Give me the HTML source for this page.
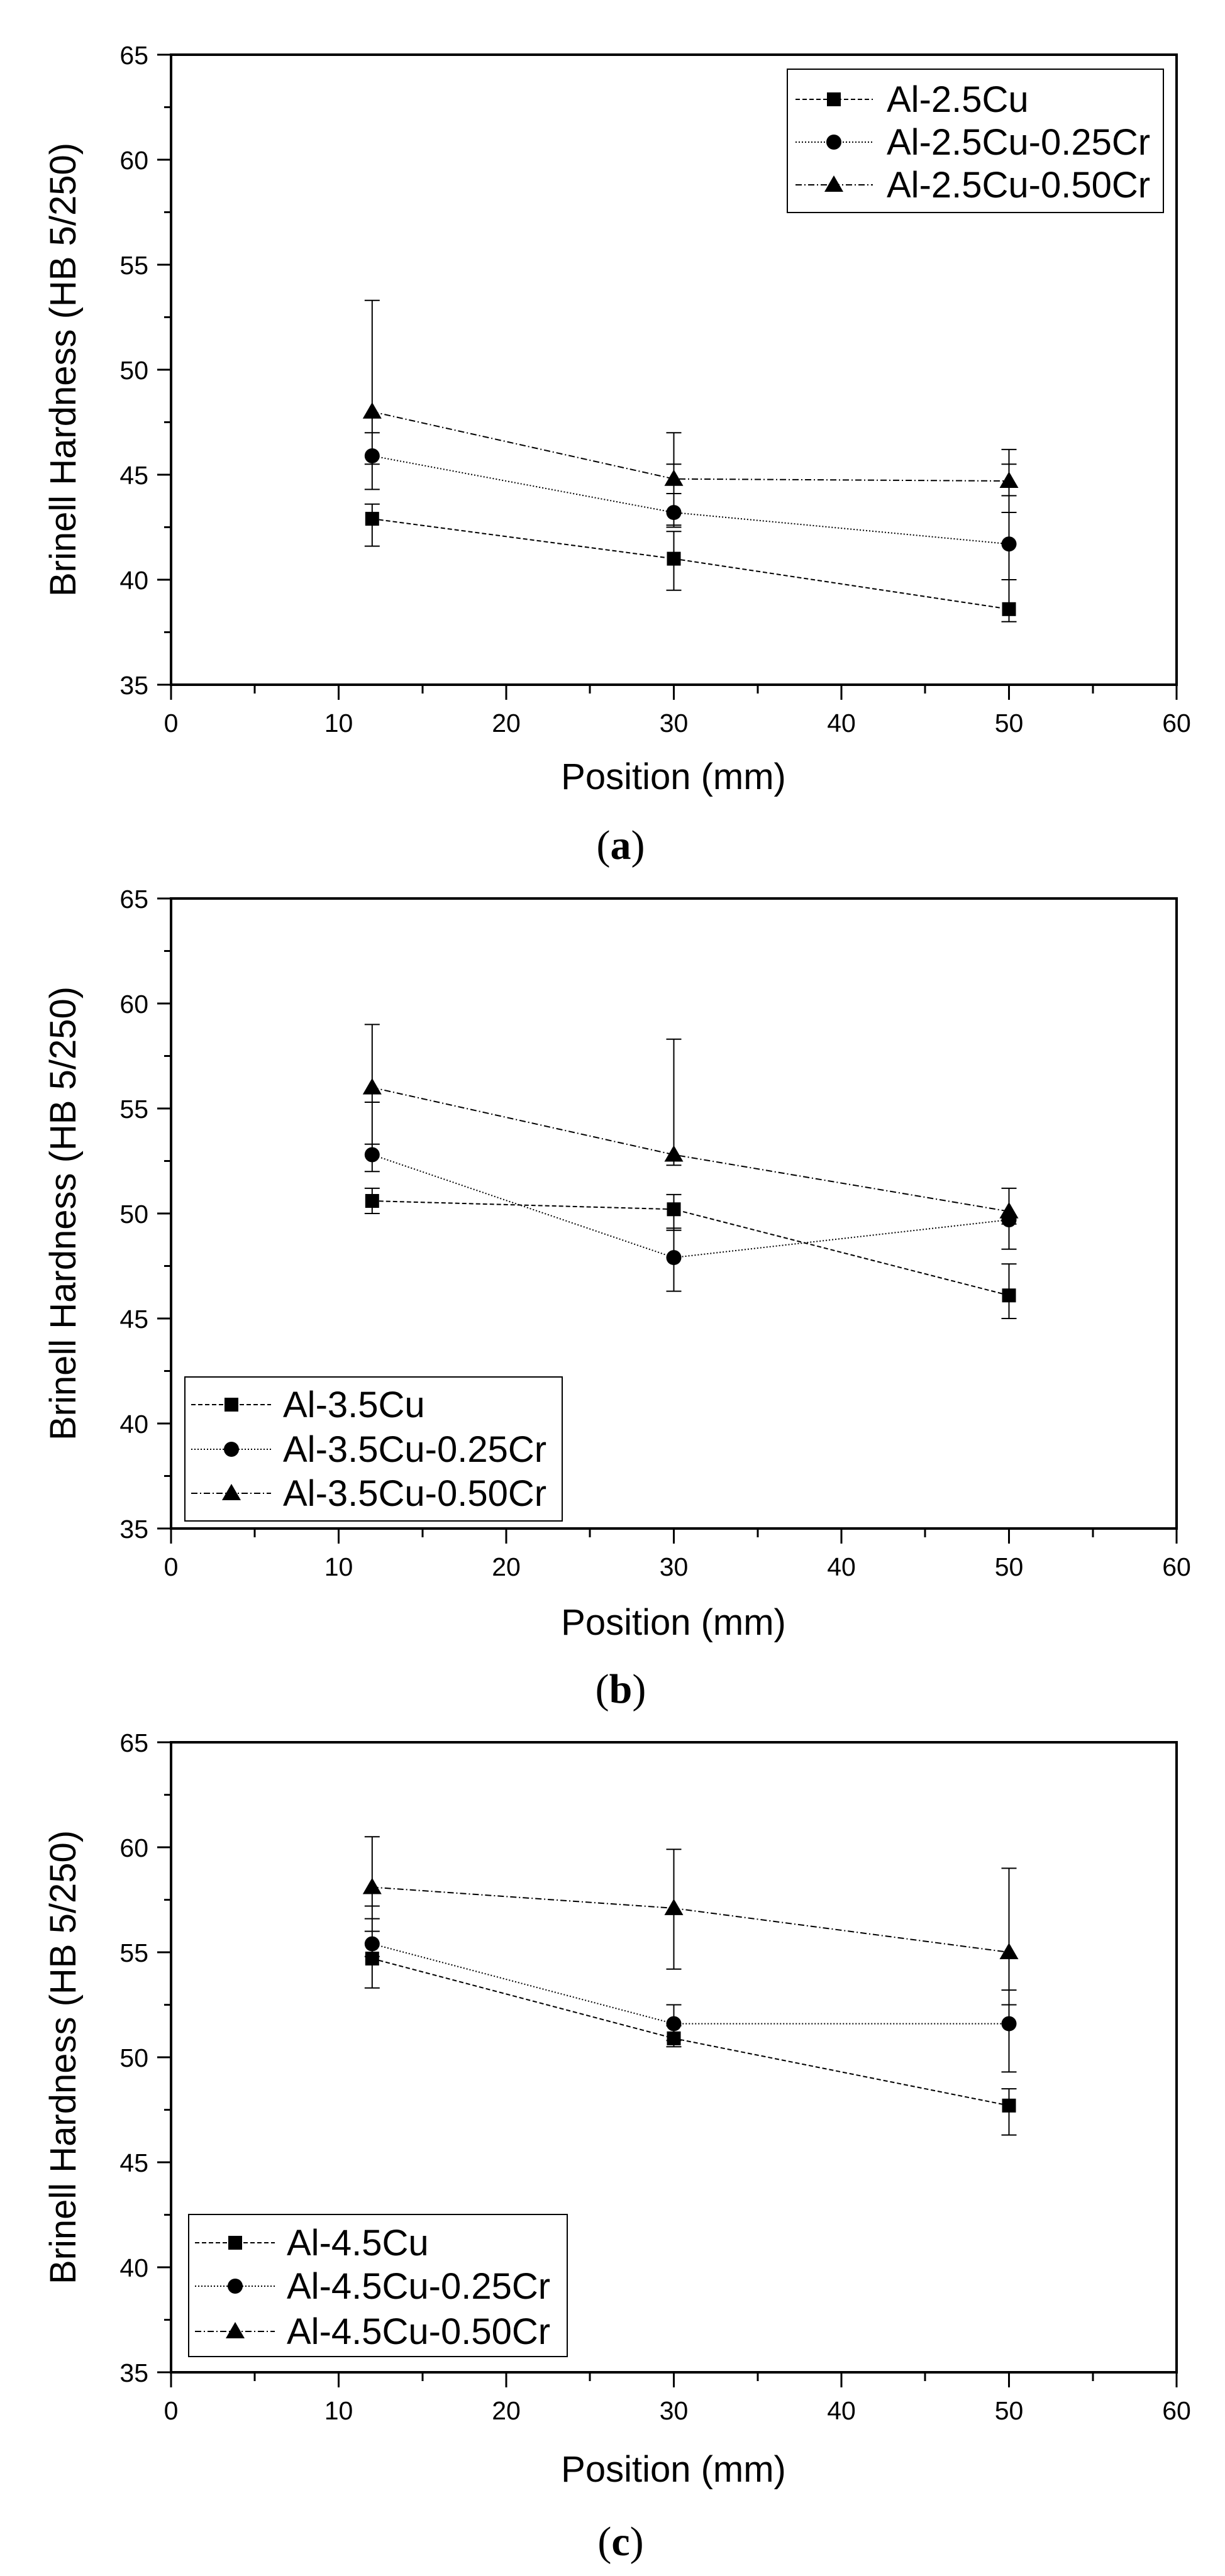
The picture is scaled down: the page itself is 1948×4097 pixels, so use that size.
<!DOCTYPE html>
<html><head><meta charset="utf-8"><style>
html,body{margin:0;padding:0;background:#fff}
svg{display:block}
text{font-family:"Liberation Sans",Arial,sans-serif;fill:#000}
.tk{font-size:41px}
.ti{font-size:58px}
.lg{font-size:58px}
.lab{font-family:"Liberation Serif",serif;font-size:66px}
</style></head><body>
<svg width="1948" height="4097" viewBox="0 0 1948 4097" xmlns="http://www.w3.org/2000/svg">
<defs>
<rect id="sq" x="-11" y="-11" width="22" height="22"/>
<circle id="ci" r="12"/>
<path id="tr" d="M0,-15 L15,11 L-15,11Z"/>
<g id="axes" fill="none" stroke="#000">
<rect x="272" y="87" width="1599" height="1002" stroke-width="4"/>
<path stroke-width="3" d="M272,1089v24M538.5,1089v24M805,1089v24M1071.5,1089v24M1338,1089v24M1604.5,1089v24M1871,1089v24
M405,1089v14M672,1089v14M938,1089v14M1205,1089v14M1471,1089v14M1738,1089v14
M272,1089h-22M272,922h-22M272,755h-22M272,588h-22M272,421h-22M272,254h-22M272,87h-22
M272,1005.5h-11M272,838.5h-11M272,671.5h-11M272,504.5h-11M272,337.5h-11M272,170.5h-11"/>
</g>
</defs>

<!-- ===== Panel (a) ===== -->
<g>
<use href="#axes"/>
<g class="tk" text-anchor="middle">
<text x="272" y="1164">0</text><text x="538.5" y="1164">10</text><text x="805" y="1164">20</text><text x="1071.5" y="1164">30</text><text x="1338" y="1164">40</text><text x="1604.5" y="1164">50</text><text x="1871" y="1164">60</text>
</g>
<g class="tk" text-anchor="end">
<text x="236" y="1104">35</text><text x="236" y="937">40</text><text x="236" y="770">45</text><text x="236" y="603">50</text><text x="236" y="436">55</text><text x="236" y="269">60</text><text x="236" y="102">65</text>
</g>
<text class="ti" x="1071" y="1255" text-anchor="middle">Position (mm)</text>
<text class="ti" transform="translate(120,588) rotate(-90)" text-anchor="middle">Brinell Hardness (HB 5/250)</text>
<g fill="none" stroke="#000" stroke-width="2">
<polyline stroke-dasharray="7,4" points="591.8,825.1 1071.5,888.6 1604.5,968.8"/>
<polyline stroke-dasharray="2,3" points="591.8,725 1071.5,815.1 1604.5,865.2"/>
<polyline stroke-dasharray="10,4,2,4" points="591.8,654.8 1071.5,761.7 1604.5,765"/>
<path d="M591.8,868.6V801.8M579.8,868.6h24M579.8,801.8h24
M1071.5,938.7V845.2M1059.5,938.7h24M1059.5,845.2h24
M1604.5,988.8V922M1592.5,988.8h24M1592.5,922h24
M591.8,778.4V688.2M579.8,778.4h24M579.8,688.2h24
M1071.5,838.5V785M1059.5,838.5h24M1059.5,785h24
M1604.5,922V788.4M1592.5,922h24M1592.5,788.4h24
M591.8,738.3V477.8M579.8,738.3h24M579.8,477.8h24
M1071.5,835.2V688.2M1059.5,835.2h24M1059.5,688.2h24M1059.5,738.3h24
M1604.5,815V714.9M1592.5,815h24M1592.5,714.9h24M1592.5,738.3h24"/>
</g>
<use href="#sq" x="591.8" y="825.1"/><use href="#sq" x="1071.5" y="888.6"/><use href="#sq" x="1604.5" y="968.8"/>
<use href="#ci" x="591.8" y="725"/><use href="#ci" x="1071.5" y="815.1"/><use href="#ci" x="1604.5" y="865.2"/>
<use href="#tr" x="591.8" y="654.8"/><use href="#tr" x="1071.5" y="761.7"/><use href="#tr" x="1604.5" y="765"/>
<rect x="1252" y="110" width="598" height="228" fill="none" stroke="#000" stroke-width="2"/>
<g fill="none" stroke="#000" stroke-width="2">
<line x1="1265" y1="158" x2="1388" y2="158" stroke-dasharray="7,4"/>
<line x1="1265" y1="226" x2="1388" y2="226" stroke-dasharray="2,3"/>
<line x1="1265" y1="294" x2="1388" y2="294" stroke-dasharray="10,4,2,4"/>
</g>
<use href="#sq" x="1326" y="158"/><use href="#ci" x="1326" y="226"/><use href="#tr" x="1326" y="294"/>
<text class="lg" x="1410" y="178">Al-2.5Cu</text>
<text class="lg" x="1410" y="246">Al-2.5Cu-0.25Cr</text>
<text class="lg" x="1410" y="314">Al-2.5Cu-0.50Cr</text>
<text class="lab" x="987" y="1366" text-anchor="middle">(<tspan font-weight="bold">a</tspan>)</text>
</g>

<!-- ===== Panel (b) ===== -->
<g transform="translate(0,1342)">
<use href="#axes"/>
<g class="tk" text-anchor="middle">
<text x="272" y="1164">0</text><text x="538.5" y="1164">10</text><text x="805" y="1164">20</text><text x="1071.5" y="1164">30</text><text x="1338" y="1164">40</text><text x="1604.5" y="1164">50</text><text x="1871" y="1164">60</text>
</g>
<g class="tk" text-anchor="end">
<text x="236" y="1104">35</text><text x="236" y="937">40</text><text x="236" y="770">45</text><text x="236" y="603">50</text><text x="236" y="436">55</text><text x="236" y="269">60</text><text x="236" y="102">65</text>
</g>
<text class="ti" x="1071" y="1258" text-anchor="middle">Position (mm)</text>
<text class="ti" transform="translate(120,588) rotate(-90)" text-anchor="middle">Brinell Hardness (HB 5/250)</text>
<g fill="none" stroke="#000" stroke-width="2">
<polyline stroke-dasharray="7,4" points="591.8,568 1071.5,581.3 1604.5,718.3"/>
<polyline stroke-dasharray="2,3" points="591.8,494.5 1071.5,658.1 1604.5,598"/>
<polyline stroke-dasharray="10,4,2,4" points="591.8,387.6 1071.5,494.5 1604.5,584.7"/>
<path d="M591.8,588V547.9M579.8,588h24M579.8,547.9h24
M1071.5,614.7V557.9M1059.5,614.7h24M1059.5,557.9h24
M1604.5,755V668.2M1592.5,755h24M1592.5,668.2h24
M591.8,521.2V411M579.8,521.2h24M579.8,411h24
M1071.5,711.6V611.4M1059.5,711.6h24M1059.5,611.4h24
M1604.5,644.8V547.9M1592.5,644.8h24M1592.5,547.9h24
M591.8,477.8V287.4M579.8,477.8h24M579.8,287.4h24
M1071.5,511.2V310.8M1059.5,511.2h24M1059.5,310.8h24
M1604.5,604.7V547.9M1592.5,604.7h24"/>
</g>
<use href="#sq" x="591.8" y="568"/><use href="#sq" x="1071.5" y="581.3"/><use href="#sq" x="1604.5" y="718.3"/>
<use href="#ci" x="591.8" y="494.5"/><use href="#ci" x="1071.5" y="658.1"/><use href="#ci" x="1604.5" y="598"/>
<use href="#tr" x="591.8" y="387.6"/><use href="#tr" x="1071.5" y="494.5"/><use href="#tr" x="1604.5" y="584.7"/>
<rect x="294" y="848" width="600" height="229" fill="none" stroke="#000" stroke-width="2"/>
<g fill="none" stroke="#000" stroke-width="2">
<line x1="304" y1="892" x2="431" y2="892" stroke-dasharray="7,4"/>
<line x1="304" y1="963" x2="431" y2="963" stroke-dasharray="2,3"/>
<line x1="304" y1="1033" x2="431" y2="1033" stroke-dasharray="10,4,2,4"/>
</g>
<use href="#sq" x="368" y="892"/><use href="#ci" x="368" y="963"/><use href="#tr" x="368" y="1033"/>
<text class="lg" x="450" y="912">Al-3.5Cu</text>
<text class="lg" x="450" y="983">Al-3.5Cu-0.25Cr</text>
<text class="lg" x="450" y="1053">Al-3.5Cu-0.50Cr</text>
<text class="lab" x="987" y="1366" text-anchor="middle">(<tspan font-weight="bold">b</tspan>)</text>
</g>

<!-- ===== Panel (c) ===== -->
<g transform="translate(0,2684)">
<use href="#axes"/>
<g class="tk" text-anchor="middle">
<text x="272" y="1164">0</text><text x="538.5" y="1164">10</text><text x="805" y="1164">20</text><text x="1071.5" y="1164">30</text><text x="1338" y="1164">40</text><text x="1604.5" y="1164">50</text><text x="1871" y="1164">60</text>
</g>
<g class="tk" text-anchor="end">
<text x="236" y="1104">35</text><text x="236" y="937">40</text><text x="236" y="770">45</text><text x="236" y="603">50</text><text x="236" y="436">55</text><text x="236" y="269">60</text><text x="236" y="102">65</text>
</g>
<text class="ti" x="1071" y="1263" text-anchor="middle">Position (mm)</text>
<text class="ti" transform="translate(120,588) rotate(-90)" text-anchor="middle">Brinell Hardness (HB 5/250)</text>
<g fill="none" stroke="#000" stroke-width="2">
<polyline stroke-dasharray="7,4" points="591.8,431 1071.5,557.9 1604.5,664.8"/>
<polyline stroke-dasharray="2,3" points="591.8,407.6 1071.5,534.6 1604.5,534.6"/>
<polyline stroke-dasharray="10,4,2,4" points="591.8,317.5 1071.5,350.9 1604.5,421"/>
<path d="M591.8,477.8V367.6M579.8,477.8h24M579.8,367.6h24
M1071.5,571.3V537.9M1059.5,571.3h24M1059.5,537.9h24
M1604.5,711.6V638.1M1592.5,711.6h24M1592.5,638.1h24
M591.8,427.7V347.5M579.8,427.7h24M579.8,347.5h24
M1071.5,561.3V504.5M1059.5,561.3h24M1059.5,504.5h24
M1604.5,611.4V481.1M1592.5,611.4h24M1592.5,481.1h24
M591.8,387.6V237.3M579.8,387.6h24M579.8,237.3h24
M1071.5,447.7V257.3M1059.5,447.7h24M1059.5,257.3h24
M1604.5,504.5V287.4M1592.5,504.5h24M1592.5,287.4h24"/>
</g>
<use href="#sq" x="591.8" y="431"/><use href="#sq" x="1071.5" y="557.9"/><use href="#sq" x="1604.5" y="664.8"/>
<use href="#ci" x="591.8" y="407.6"/><use href="#ci" x="1071.5" y="534.6"/><use href="#ci" x="1604.5" y="534.6"/>
<use href="#tr" x="591.8" y="317.5"/><use href="#tr" x="1071.5" y="350.9"/><use href="#tr" x="1604.5" y="421"/>
<rect x="300" y="838" width="602" height="226" fill="none" stroke="#000" stroke-width="2"/>
<g fill="none" stroke="#000" stroke-width="2">
<line x1="310" y1="883" x2="437" y2="883" stroke-dasharray="7,4"/>
<line x1="310" y1="952" x2="437" y2="952" stroke-dasharray="2,3"/>
<line x1="310" y1="1024" x2="437" y2="1024" stroke-dasharray="10,4,2,4"/>
</g>
<use href="#sq" x="374" y="883"/><use href="#ci" x="374" y="952"/><use href="#tr" x="374" y="1024"/>
<text class="lg" x="456" y="903">Al-4.5Cu</text>
<text class="lg" x="456" y="972">Al-4.5Cu-0.25Cr</text>
<text class="lg" x="456" y="1044">Al-4.5Cu-0.50Cr</text>
<text class="lab" x="987" y="1380" text-anchor="middle">(<tspan font-weight="bold">c</tspan>)</text>
</g>
</svg>
</body></html>
